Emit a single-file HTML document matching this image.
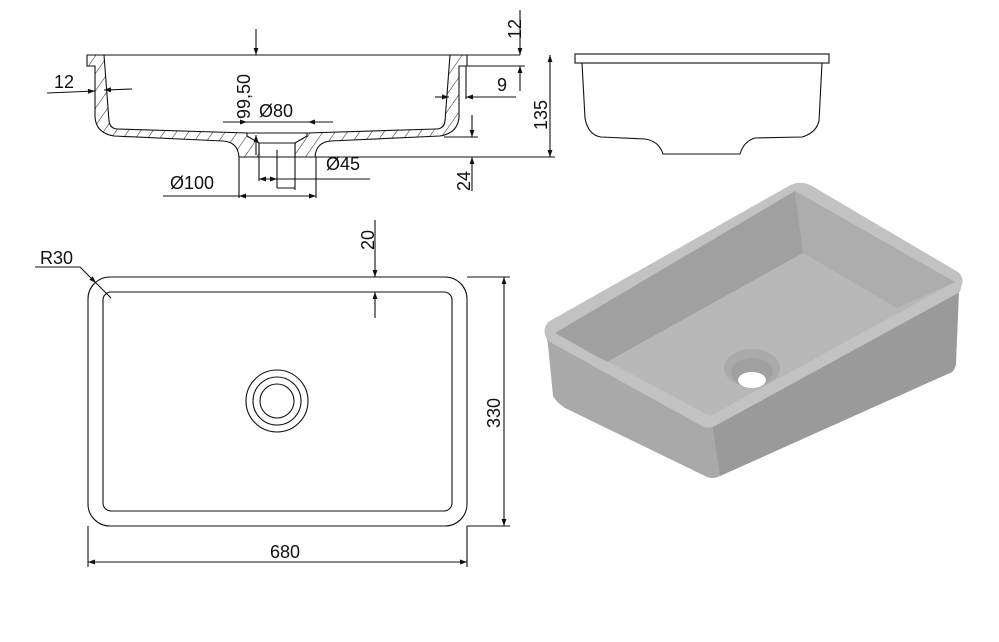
<!DOCTYPE html>
<html><head><meta charset="utf-8"><style>
html,body{margin:0;padding:0;background:#fff}
svg{display:block}
text{font-family:"Liberation Sans",sans-serif;font-size:18px;fill:#111}
</style></head><body>
<svg width="999" height="642" viewBox="0 0 999 642" xmlns="http://www.w3.org/2000/svg">
<defs>
<pattern id="h" width="10" height="10" patternUnits="userSpaceOnUse" patternTransform="rotate(35)">
<line x1="0" y1="0" x2="0" y2="10" stroke="#222" stroke-width="1"/>
</pattern>
<marker id="a" viewBox="0 0 10 10" refX="10" refY="5" markerWidth="10" markerHeight="7" orient="auto-start-reverse" markerUnits="userSpaceOnUse"><path d="M0,1.5 L10,5 L0,8.5z" fill="#111"/></marker>
</defs>
<g fill="none" stroke="#111" stroke-width="1.1">
<line x1="87" y1="55" x2="520" y2="55"/>
<path d="M87,55 L104,55 L109,121 Q110,129 118,129 L247,133 L247,136 L259,143 L259,157 L239,157 Q238,142 223,141 L114,136 Q96,133 95,117 L95,66 L87,66 Z" fill="url(#h)"/>
<path d="M467,55 L450,55 L445,121 Q444,129 436,129 L307,133 L307,136 L295,143 L295,157 L315,157 Q316,142 331,141 L440,136 Q458,133 459,117 L459,66 L467,66 Z" fill="url(#h)"/>
<line x1="247" y1="133" x2="307" y2="133"/>
<line x1="259" y1="143" x2="295" y2="143"/>
<line x1="239" y1="157" x2="555" y2="157"/>
<line x1="444" y1="137" x2="478" y2="137"/>
<line x1="466" y1="66" x2="525" y2="66"/>
<line x1="466" y1="66" x2="466" y2="99"/>
<line x1="520" y1="10" x2="520" y2="55" marker-end="url(#a)"/>
<line x1="520" y1="91" x2="520" y2="66" marker-end="url(#a)"/>
<line x1="435" y1="97" x2="449" y2="97" marker-end="url(#a)"/>
<line x1="516" y1="97" x2="466" y2="97" marker-end="url(#a)"/>
<line x1="550" y1="55" x2="550" y2="157" marker-start="url(#a)" marker-end="url(#a)"/>
<line x1="472" y1="115" x2="472" y2="137" marker-end="url(#a)"/>
<line x1="472" y1="191" x2="472" y2="157" marker-end="url(#a)"/>
<line x1="47" y1="93" x2="95" y2="91" marker-end="url(#a)"/>
<line x1="132" y1="89" x2="104" y2="90" marker-end="url(#a)"/>
<line x1="256" y1="29" x2="256" y2="55" marker-end="url(#a)"/>
<line x1="256" y1="155" x2="256" y2="135" marker-end="url(#a)"/>
<line x1="223" y1="122" x2="247" y2="122" marker-end="url(#a)"/>
<line x1="333" y1="122" x2="308" y2="122" marker-end="url(#a)"/>
<line x1="247" y1="122" x2="308" y2="122"/>
<line x1="259" y1="143" x2="259" y2="181"/>
<line x1="295" y1="143" x2="295" y2="190"/>
<line x1="277" y1="150" x2="277" y2="188"/>
<line x1="277" y1="188" x2="295" y2="188"/>
<line x1="259" y1="179" x2="277" y2="179" marker-start="url(#a)" marker-end="url(#a)"/>
<line x1="277" y1="179" x2="370" y2="179"/>
<line x1="239" y1="157" x2="239" y2="198"/>
<line x1="316" y1="157" x2="316" y2="198"/>
<line x1="163" y1="196" x2="239" y2="196"/>
<line x1="239" y1="196" x2="316" y2="196" marker-start="url(#a)" marker-end="url(#a)"/>
<rect x="575" y="54" width="254" height="9"/>
<path d="M582,63 L585,118 Q588,135 601,137 L645,139 Q659,141 663,154 L740,154 Q744,141 755,138 L802,137 Q816,133 819,121 L822,63"/>
<rect x="88" y="277" width="379" height="249" rx="22"/>
<rect x="103" y="292" width="349" height="219" rx="8"/>
<circle cx="277" cy="401" r="31"/>
<circle cx="277" cy="401" r="24"/>
<circle cx="277" cy="401" r="17"/>
<line x1="35" y1="267" x2="80" y2="267"/>
<line x1="80" y1="267" x2="96" y2="283" marker-end="url(#a)"/>
<line x1="96" y1="283" x2="111" y2="298"/>
<line x1="375" y1="220" x2="375" y2="277" marker-end="url(#a)"/>
<line x1="375" y1="318" x2="375" y2="292" marker-end="url(#a)"/>
<line x1="467" y1="277" x2="510" y2="277"/>
<line x1="467" y1="526" x2="510" y2="526"/>
<line x1="504" y1="277" x2="504" y2="526" marker-start="url(#a)" marker-end="url(#a)"/>
<line x1="88" y1="526" x2="88" y2="567"/>
<line x1="467" y1="526" x2="467" y2="567"/>
<line x1="88" y1="562" x2="467" y2="562" marker-start="url(#a)" marker-end="url(#a)"/>
</g>
<text x="54" y="88">12</text>
<text x="497" y="91">9</text>
<text x="0" y="0" transform="translate(521,39) rotate(-90)">12</text>
<text x="0" y="0" transform="translate(547,130) rotate(-90)">135</text>
<text x="0" y="0" transform="translate(470,191) rotate(-90)">24</text>
<text x="0" y="0" transform="translate(250,119) rotate(-90)">99,50</text>
<text x="259" y="117">Ø80</text>
<text x="326" y="170">Ø45</text>
<text x="170" y="189">Ø100</text>
<text x="40" y="264">R30</text>
<text x="0" y="0" transform="translate(374,250) rotate(-90)">20</text>
<text x="0" y="0" transform="translate(500,428) rotate(-90)">330</text>
<text x="270" y="558">680</text>
<g stroke="none">
<path d="M545,327 L548,345 L553,396 Q556,402 565,408 L705,476 Q712,480 720,476 L952,372 Q956,368 956,362 L959,290 L710,420 Z" fill="#a9a9a9"/>
<path d="M720,476 L952,372 Q956,368 956,362 L959,290 L712,422 Z" fill="#9a9a9a"/>
<path d="M797,183 Q805,182 812,186 L958,272 Q964,277 962,284 L960,292 L715,426 Q708,430 700,425 L550,342 Q543,337 545,327 L548,322 L787,187 Q792,184 797,183 Z" fill="#c2c2c2"/>
<path d="M555,333 L795,191 L955,282 L710,416 Z" fill="#b7b7b7"/>
<path d="M555,333 L795,191 L803,253 L607,362 Z" fill="#a0a0a0"/>
<path d="M795,191 L955,282 L897,308 L803,253 Z" fill="#adadad"/>
<path d="M607,362 L803,253 L897,308 L712,414 L560,338 Z" fill="#b8b8b8"/>
<ellipse cx="752" cy="368" rx="28" ry="19" fill="#aaaaaa"/>
<ellipse cx="752" cy="372" rx="21" ry="14" fill="#a0a0a0"/>
<ellipse cx="752" cy="380" rx="14" ry="8" fill="#ffffff"/>
</g>
</svg>
</body></html>
